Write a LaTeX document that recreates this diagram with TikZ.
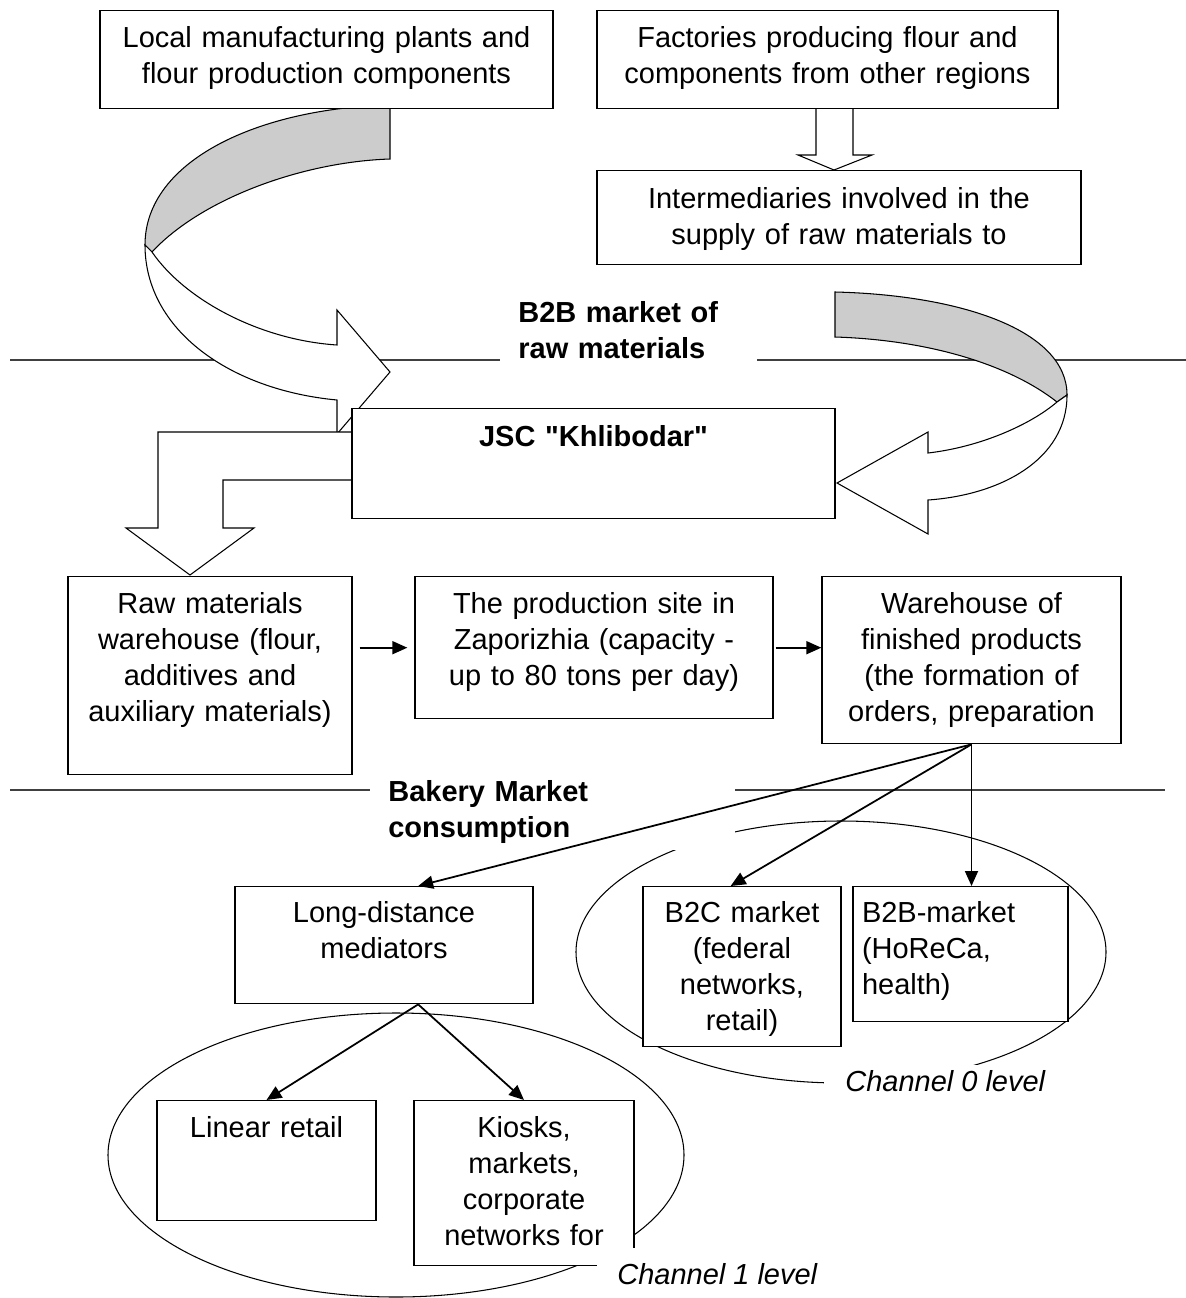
\documentclass[tikz,border=0pt]{standalone}
\usepackage{fontspec}
\setmainfont{Liberation Sans}[Ligatures=TeXOff]
\usetikzlibrary{arrows.meta}

\newcommand{\diagfont}{\fontsize{16.5}{20.4}\selectfont}

\tikzset{
  box/.style={draw, fill=white, line width=0.8pt, inner xsep=0pt, inner ysep=0pt, align=center, anchor=north},
  tag/.style={fill=white, inner ysep=0pt, align=left, anchor=north west},
  conn/.style={-{Triangle[length=0.3cm, width=0.26cm]}, line width=1pt},
  border/.style={line width=1pt, black!75},
  back/.style={draw, fill=black!20, line width=0.6pt},
  front/.style={draw, fill=white, line width=0.6pt}
}

\begin{document}
\begin{tikzpicture}[x=0.02cm, y=-0.02cm, every node/.style={font=\diagfont}]
  \useasboundingbox (0,0) rectangle (1186,1298);

  % Market borders
  \draw[border] (10,360) -- (1186,360);
  \draw[border] (10,790) -- (1165,790);

  % Channels
  \draw[line width=0.6pt] (841,952) ellipse [x radius=265, y radius=131];
  \draw[line width=0.6pt] (396,1155) ellipse [x radius=288, y radius=142];

  % Supply arrows
  \draw[back] (390,105) .. controls (260,108) and (145,160) .. (145,245) -- (152,252)
    .. controls (200,200) and (300,162) .. (390,159) -- cycle;
  \draw[front] (145,245) .. controls (145,330) and (230,390) .. (337,400) -- (337,434)
    -- (390,372) -- (337,310) -- (337,345) .. controls (260,340) and (185,300) .. (152,252) -- cycle;
  \draw[back] (835,292) .. controls (960,295) and (1067,330) .. (1067,395) -- (1057,402)
    .. controls (1010,365) and (930,340) .. (835,337) -- cycle;
  \draw[front] (1067,395) .. controls (1067,460) and (1000,495) .. (928,500) -- (928,534)
    -- (837,483) -- (928,432) -- (928,453) .. controls (980,447) and (1030,425) .. (1057,402) -- cycle;
  \draw[front] (816,108) -- (816,155) -- (798,155) -- (834,170) -- (872,155) -- (853,155) -- (853,108) -- cycle;
  \draw[front] (352,432) -- (158,432) -- (158,528) -- (126,528) -- (190,575) -- (254,528)
    -- (223,528) -- (223,480) -- (352,480) -- cycle;

  % Nodes
  \node[box, text width=9.06cm, text height=0.74cm, text depth=1.22cm] (local) at (326.5,10)
    {Local manufacturing plants and\\flour production components};
  \node[box, text width=9.22cm, text height=0.74cm, text depth=1.22cm] (fact) at (827.5,10)
    {Factories producing flour and\\components from other regions};
  \node[box, text width=9.68cm, text height=0.76cm, text depth=1.12cm] (inter) at (839,170)
    {Intermediaries involved in the\\supply of raw materials to};
  \node[box, text width=9.66cm, text height=0.76cm, text depth=1.44cm, font=\diagfont\bfseries] (jsc) at (593.5,408)
    {JSC "Khlibodar"};
  \node[box, text width=5.68cm, text height=0.74cm, text depth=3.22cm] (raw) at (210,576)
    {Raw materials\\warehouse (flour,\\additives and\\auxiliary materials)};
  \node[box, text width=7.16cm, text height=0.74cm, text depth=2.10cm] (prod) at (594,576)
    {The production site in\\Zaporizhia (capacity -\\up to 80 tons per day)};
  \node[box, text width=5.98cm, text height=0.74cm, text depth=2.60cm] (ware) at (971.5,576)
    {Warehouse of\\finished products\\(the formation of\\orders, preparation};
  \node[box, text width=5.96cm, text height=0.72cm, text depth=1.62cm] (dist) at (384,886)
    {Long-distance\\mediators};
  \node[box, text width=3.96cm, text height=0.72cm, text depth=2.48cm] (btoc) at (742,886)
    {B2C market\\(federal\\networks,\\retail)};
  \node[box, align=left, text width=3.94cm, inner xsep=0.18cm, text height=0.72cm, text depth=1.98cm] (btob) at (960.5,886)
    {B2B-market\\(HoReCa,\\health)};
  \node[box, text width=4.38cm, text height=0.74cm, text depth=1.66cm] (linear) at (266.5,1100)
    {Linear retail};
  \node[box, text width=4.40cm, text height=0.74cm, text depth=2.56cm] (kiosk) at (524,1100)
    {Kiosks,\\markets,\\corporate\\networks for};

  % Labels
  \node[tag, font=\diagfont\bfseries, text width=4.42cm, inner xsep=0.36cm, text height=0.64cm, text depth=1.36cm] (rawmkt) at (500,290)
    {B2B market of\\raw materials};
  \node[tag, font=\diagfont\bfseries, text width=6.58cm, inner xsep=0.36cm, text height=0.62cm, text depth=0.98cm] (bakery) at (370,770)
    {Bakery Market\\consumption};
  \node[tag, font=\diagfont\itshape, inner xsep=0.42cm, text height=0.52cm, text depth=0.3cm] (chzero) at (824,1065)
    {Channel 0 level};
  \node[tag, font=\diagfont\itshape, inner xsep=0.4cm, text height=0.72cm, text depth=0.3cm] (chone) at (597,1248)
    {Channel 1 level};

  % Arrows
  \draw[conn, shorten <=0.14cm, shorten >=0.14cm] (raw.east |- prod.west) -- (prod.west);
  \draw[conn, shorten <=0.04cm] (prod.east) -- (ware.west |- prod.east);
  \draw[conn] (ware.south) -- (dist.60);
  \draw[conn] (ware.south) -- (btoc.98);
  \draw[conn] (ware.south) -- (ware.south |- btob.north);
  \draw[conn] (dist.-60) -- (linear.north);
  \draw[conn] (dist.-60) -- (kiosk.north);
\end{tikzpicture}
\end{document}
